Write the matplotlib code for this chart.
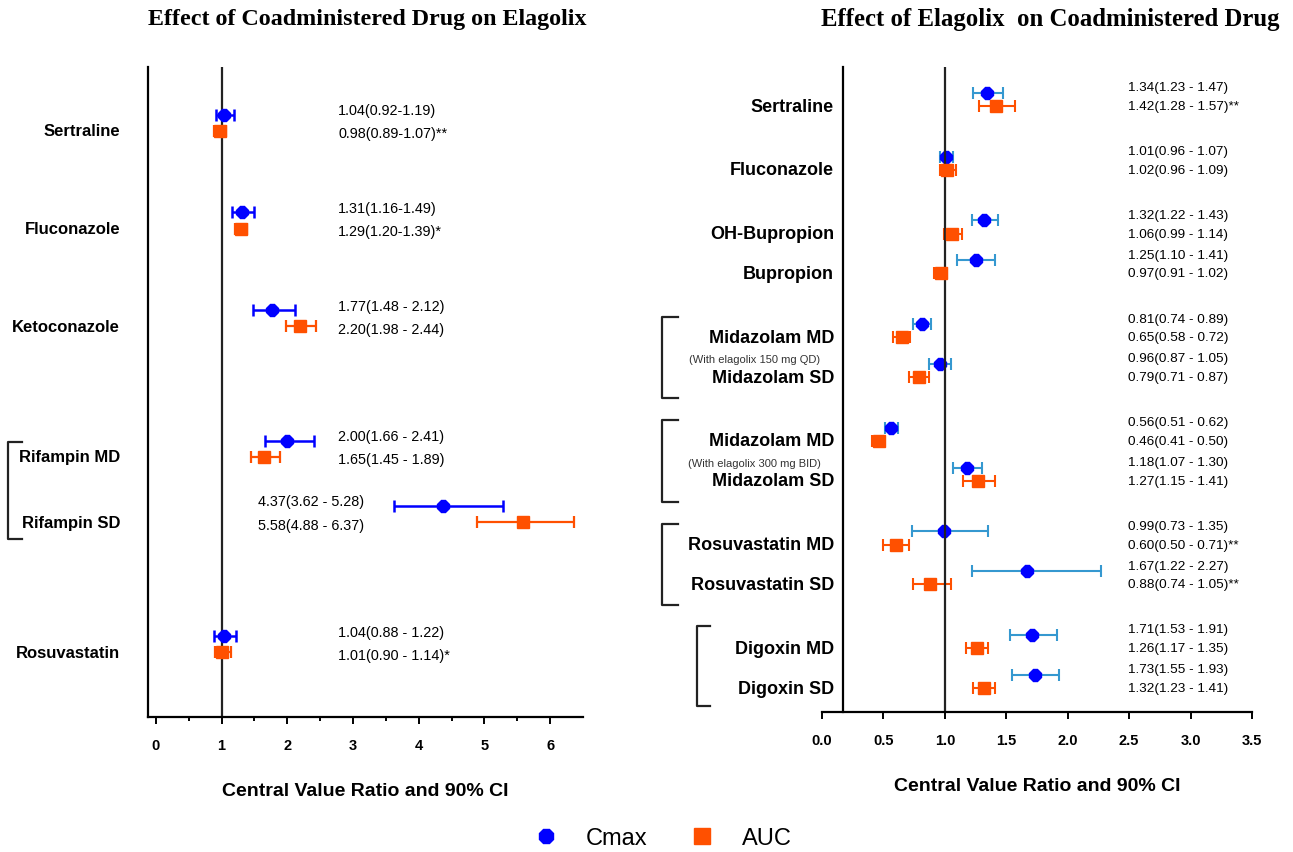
import matplotlib
matplotlib.use("Agg")
import matplotlib.pyplot as plt
import matplotlib.transforms as mtransforms
from matplotlib.lines import Line2D

plt.rcParams['font.family'] = ['Liberation Sans', 'DejaVu Sans']

# Left panel: effect of coadministered drug on elagolix
left_drugs = ["Sertraline", "Fluconazole", "Ketoconazole", "Rifampin MD", "Rifampin SD", "Rosuvastatin"]
left_cmax = [1.04, 1.31, 1.77, 2.00, 4.37, 1.04]
left_cmax_lo = [0.92, 1.16, 1.48, 1.66, 3.62, 0.88]
left_cmax_hi = [1.19, 1.49, 2.12, 2.41, 5.28, 1.22]
left_auc = [0.98, 1.29, 2.20, 1.65, 5.58, 1.01]
left_auc_lo = [0.89, 1.20, 1.98, 1.45, 4.88, 0.90]
left_auc_hi = [1.07, 1.39, 2.44, 1.89, 6.37, 1.14]
left_cmax_txt = ["1.04(0.92-1.19)", "1.31(1.16-1.49)", "1.77(1.48 - 2.12)",
                 "2.00(1.66 - 2.41)", "4.37(3.62 - 5.28)", "1.04(0.88 - 1.22)"]
left_auc_txt = ["0.98(0.89-1.07)**", "1.29(1.20-1.39)*", "2.20(1.98 - 2.44)",
                "1.65(1.45 - 1.89)", "5.58(4.88 - 6.37)", "1.01(0.90 - 1.14)*"]

# Right panel: effect of elagolix on coadministered drug
right_drugs = ["Sertraline", "Fluconazole", "OH-Bupropion", "Bupropion",
               "Midazolam MD", "Midazolam SD", "Midazolam MD", "Midazolam SD",
               "Rosuvastatin MD", "Rosuvastatin SD", "Digoxin MD", "Digoxin SD"]
right_cmax = [1.34, 1.01, 1.32, 1.25, 0.81, 0.96, 0.56, 1.18, 0.99, 1.67, 1.71, 1.73]
right_cmax_lo = [1.23, 0.96, 1.22, 1.10, 0.74, 0.87, 0.51, 1.07, 0.73, 1.22, 1.53, 1.55]
right_cmax_hi = [1.47, 1.07, 1.43, 1.41, 0.89, 1.05, 0.62, 1.30, 1.35, 2.27, 1.91, 1.93]
right_auc = [1.42, 1.02, 1.06, 0.97, 0.65, 0.79, 0.46, 1.27, 0.60, 0.88, 1.26, 1.32]
right_auc_lo = [1.28, 0.96, 0.99, 0.91, 0.58, 0.71, 0.41, 1.15, 0.50, 0.74, 1.17, 1.23]
right_auc_hi = [1.57, 1.09, 1.14, 1.02, 0.72, 0.87, 0.50, 1.41, 0.71, 1.05, 1.35, 1.41]
right_cmax_txt = ["1.34(1.23 - 1.47)", "1.01(0.96 - 1.07)", "1.32(1.22 - 1.43)", "1.25(1.10 - 1.41)",
                  "0.81(0.74 - 0.89)", "0.96(0.87 - 1.05)", "0.56(0.51 - 0.62)", "1.18(1.07 - 1.30)",
                  "0.99(0.73 - 1.35)", "1.67(1.22 - 2.27)", "1.71(1.53 - 1.91)", "1.73(1.55 - 1.93)"]
right_auc_txt = ["1.42(1.28 - 1.57)**", "1.02(0.96 - 1.09)", "1.06(0.99 - 1.14)", "0.97(0.91 - 1.02)",
                 "0.65(0.58 - 0.72)", "0.79(0.71 - 0.87)", "0.46(0.41 - 0.50)", "1.27(1.15 - 1.41)",
                 "0.60(0.50 - 0.71)**", "0.88(0.74 - 1.05)**", "1.26(1.17 - 1.35)", "1.32(1.23 - 1.41)"]
subtitles = ["(With elagolix 150 mg QD)", "(With elagolix 300 mg BID)"]

# layout: row positions
left_rows = [0, 1.5, 3, 5, 6, 8]
right_rows = [0, 1.6, 3.2, 4.2, 5.8, 6.8, 8.4, 9.4, 11.0, 12.0, 13.6, 14.6]

BLUE = "#0000FF"
LBLUE = "#3598D0"
ORANGE = "#FF5000"

fig = plt.figure(figsize=(12.93, 8.53), dpi=100)
axL = fig.add_axes([148 / 1293, 1 - 718 / 853, 435 / 1293, 650 / 853])
axR = fig.add_axes([822 / 1293, 1 - 713 / 853, 430 / 1293, 645 / 853])


def bracket(ax, x0, x1, y0, y1):
    tr = mtransforms.blended_transform_factory(ax.transAxes, ax.transData)
    ax.add_line(Line2D([x1, x0, x0, x1], [y0, y0, y1, y1], transform=tr,
                       color="#222222", lw=1.6, clip_on=False))


def style(ax):
    for s in ["top", "right"]:
        ax.spines[s].set_visible(False)
    ax.spines["left"].set_linewidth(1.6)
    ax.spines["bottom"].set_linewidth(1.6)
    ax.set_yticks([])
    ax.tick_params(axis="x", direction="out", width=1.4, length=5, labelsize=10.5, pad=10)
    for lab in ax.get_xticklabels():
        lab.set_fontweight("bold")
    ax.set_xlabel("Central Value Ratio and 90% CI", fontsize=14, fontweight="bold", labelpad=22)


# ---- left panel
cm_y = [r - 0.25 for r in left_rows]
axL.errorbar(left_cmax, cm_y,
             xerr=[[c - l for c, l in zip(left_cmax, left_cmax_lo)], [h - c for c, h in zip(left_cmax, left_cmax_hi)]],
             fmt="8", color=BLUE, ms=9, elinewidth=1.8, capsize=4, capthick=1.8)
axL.errorbar(left_auc, left_rows,
             xerr=[[c - l for c, l in zip(left_auc, left_auc_lo)], [h - c for c, h in zip(left_auc, left_auc_hi)]],
             fmt="s", color=ORANGE, ms=8.5, elinewidth=1.6, capsize=4, capthick=1.6)
axL.axvline(1, color="#222222", lw=1.6)
axL.set_xlim(-0.12, 6.5)
axL.set_ylim(8.99, -0.98)
axL.set_xticks(range(0, 7))
axL.set_xticks([0.5 + i for i in range(6)], minor=True)
axL.tick_params(axis="x", which="minor", direction="out", width=1.4, length=3)
style(axL)
trL = mtransforms.blended_transform_factory(axL.transAxes, axL.transData)
for i, r in enumerate(left_rows):
    axL.text(-0.064, r, left_drugs[i], transform=trL, ha="right", va="center",
             fontsize=12, fontweight="bold")
    tx = 0.253 if left_drugs[i] == "Rifampin SD" else 0.437
    axL.text(tx, r - 0.32, left_cmax_txt[i], transform=trL, ha="left", va="center", fontsize=10.4)
    axL.text(tx, r + 0.04, left_auc_txt[i], transform=trL, ha="left", va="center", fontsize=10.4)
bracket(axL, -0.322, -0.290, left_rows[3] - 0.23, left_rows[4] + 0.26)

# ---- right panel
cm_y = [r - 0.33 for r in right_rows]
axR.errorbar(right_cmax, cm_y,
             xerr=[[c - l for c, l in zip(right_cmax, right_cmax_lo)], [h - c for c, h in zip(right_cmax, right_cmax_hi)]],
             fmt="none", ecolor=LBLUE, elinewidth=1.5, capsize=4, capthick=1.5)
axR.plot(right_cmax, cm_y, "8", color=BLUE, ms=9, linestyle="none")
axR.errorbar(right_auc, right_rows,
             xerr=[[c - l for c, l in zip(right_auc, right_auc_lo)], [h - c for c, h in zip(right_auc, right_auc_hi)]],
             fmt="s", color=ORANGE, ms=9, elinewidth=1.5, capsize=4, capthick=1.5)
axR.axvline(1, color="#222222", lw=1.6)
axR.set_xlim(0, 3.5)
axR.set_ylim(15.2, -0.98)
axR.set_xticks([0.5 * i for i in range(8)])
axR.set_xticklabels([f"{0.5 * i:.1f}" for i in range(8)])
style(axR)
axR.spines["left"].set_position(("data", 0.17))
trR = mtransforms.blended_transform_factory(axR.transAxes, axR.transData)
for i, r in enumerate(right_rows):
    axR.text(0.028, r, right_drugs[i], transform=trR, ha="right", va="center",
             fontsize=13, fontweight="bold")
    axR.text(0.712, r - 0.47, right_cmax_txt[i], transform=trR, ha="left", va="center", fontsize=9.7)
    axR.text(0.712, r, right_auc_txt[i], transform=trR, ha="left", va="center", fontsize=9.7)
for k, idx in enumerate([4, 6]):
    axR.text(-0.156, right_rows[idx] + 0.55, subtitles[k], transform=trR, ha="center", va="center",
             fontsize=8, color="#333333")
for a, b in [(4, 5), (6, 7), (8, 9)]:
    bracket(axR, -0.372, -0.335, right_rows[a] - 0.52, right_rows[b] + 0.52)
bracket(axR, -0.291, -0.26, right_rows[10] - 0.55, right_rows[11] + 0.45)

# titles
fig.text(0.284, 0.977, "Effect of Coadministered Drug on Elagolix", ha="center", va="center",
         fontsize=17.3, fontweight="bold", family="Liberation Serif")
fig.text(0.812, 0.977, "Effect of Elagolix  on Coadministered Drug", ha="center", va="center",
         fontsize=17.8, fontweight="bold", family="Liberation Serif")

# legend
handles = [Line2D([], [], marker="8", color=BLUE, ls="none", ms=11),
           Line2D([], [], marker="s", color=ORANGE, ls="none", ms=11.5)]
fig.legend(handles, ["Cmax", "AUC"], loc="center", bbox_to_anchor=(0.508, 0.016), ncol=2,
           frameon=False, fontsize=17, handletextpad=0.7, columnspacing=1.3)

fig.savefig("out.png", dpi=100)
